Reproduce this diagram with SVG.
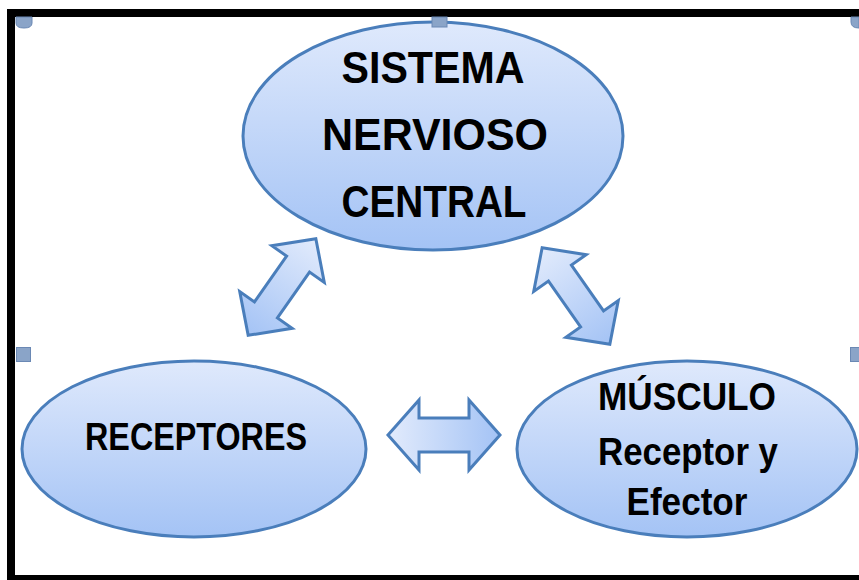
<svg xmlns="http://www.w3.org/2000/svg" width="859" height="580" viewBox="0 0 859 580">
<defs>
<linearGradient id="gEll" x1="0" y1="0" x2="0" y2="1">
<stop offset="0" stop-color="#dfe9fc"/>
<stop offset="1" stop-color="#a4c3f5"/>
</linearGradient>
<linearGradient id="gArr" x1="0" y1="0" x2="1" y2="0">
<stop offset="0" stop-color="#e2ebfc"/>
<stop offset="1" stop-color="#a4c3f5"/>
</linearGradient>
<linearGradient id="gArrR" x1="1" y1="0" x2="0" y2="0">
<stop offset="0" stop-color="#e2ebfc"/>
<stop offset="1" stop-color="#a4c3f5"/>
</linearGradient>
<style>
.ell{fill:url(#gEll);stroke:#4a7ebb;stroke-width:3}
.arr{stroke:#4a7ebb;stroke-width:3;stroke-linejoin:miter}
.t{font-family:"Liberation Sans",Arial,sans-serif;font-weight:bold;fill:#000;text-anchor:middle}
.h{fill:#8aa4c8;stroke:#6a88b4;stroke-width:1}
</style>
</defs>
<rect x="0" y="0" width="859" height="580" fill="#fff"/>

<g id="connectors">
<path class="arr" fill="url(#gArrR)" transform="translate(282,287) rotate(-55)" d="M-59,0 L-28,-32 L-28,-14 L28,-14 L28,-32 L59,0 L28,32 L28,14 L-28,14 L-28,32 Z"/>
<path class="arr" fill="url(#gArr)" transform="translate(576,296) rotate(55)" d="M-59,0 L-28,-32 L-28,-14 L28,-14 L28,-32 L59,0 L28,32 L28,14 L-28,14 L-28,32 Z"/>
<path class="arr" fill="url(#gArr)" transform="translate(444,435)" d="M-56,0 L-25,-35 L-25,-17 L25,-17 L25,-35 L56,0 L25,35 L25,17 L-25,17 L-25,35 Z"/>
</g>

<g id="snc">
<ellipse class="ell" cx="433" cy="136" rx="190" ry="114"/>
<text class="t" x="433" y="83" font-size="45" textLength="183" lengthAdjust="spacingAndGlyphs">SISTEMA</text>
<text class="t" x="435" y="150" font-size="45" textLength="226" lengthAdjust="spacingAndGlyphs">NERVIOSO</text>
<text class="t" x="434" y="217" font-size="45" textLength="185" lengthAdjust="spacingAndGlyphs">CENTRAL</text>
</g>

<g id="receptores">
<ellipse class="ell" cx="194" cy="449" rx="172" ry="88"/>
<text class="t" x="196" y="450" font-size="39" textLength="222" lengthAdjust="spacingAndGlyphs">RECEPTORES</text>
</g>

<g id="musculo">
<ellipse class="ell" cx="687" cy="449" rx="170" ry="88"/>
<text class="t" x="687" y="410" font-size="39" textLength="178" lengthAdjust="spacingAndGlyphs">MÚSCULO</text>
<text class="t" x="688" y="465" font-size="39" textLength="180" lengthAdjust="spacingAndGlyphs">Receptor y</text>
<text class="t" x="687" y="515" font-size="39" textLength="121" lengthAdjust="spacingAndGlyphs">Efector</text>
</g>

<g id="frame">
<rect x="11" y="13" width="860" height="566" fill="none" stroke="#000" stroke-width="8"/>
</g>

<g id="handles">
<path class="h" d="M16,17 L32,17 L32,23 Q32,28 24,28 Q16,28 16,23 Z"/>
<rect class="h" x="432" y="17" width="15" height="10"/>
<path class="h" d="M851,17 L859,17 L859,28 Q851,28 851,22 Z"/>
<rect class="h" x="16.5" y="347.5" width="14" height="14"/>
<rect class="h" x="850.5" y="347.5" width="10" height="14"/>
</g>
</svg>
